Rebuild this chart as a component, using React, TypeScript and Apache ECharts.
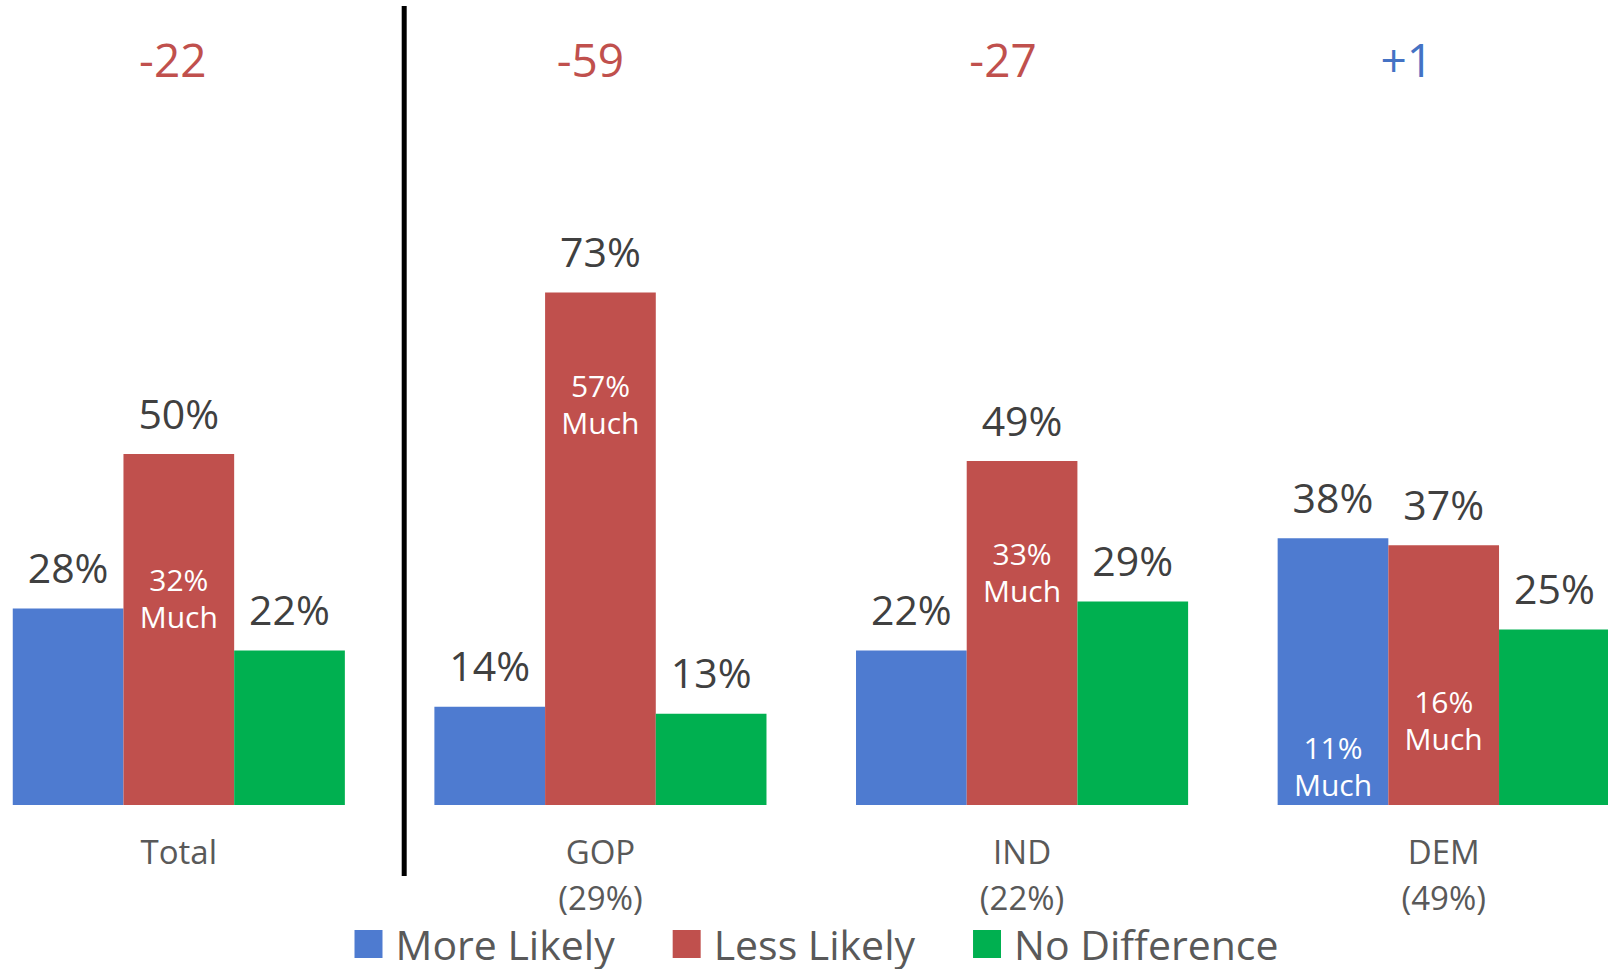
import React, { useEffect, useRef } from "react";
import * as echarts from "echarts";

const categories = ["Total", "GOP\n(29%)", "IND\n(22%)", "DEM\n(49%)"];
const moreLikely = [28, 14, 22, 38];
const lessLikely = [50, 73, 49, 37];
const noDifference = [22, 13, 29, 25];
const netLabels = ["-22", "-59", "-27", "+1"];
const muchLess = [32, 57, 33, 16];
const muchMore: (number | null)[] = [null, null, null, 11];

const FONT = "'Open Sans', 'Noto Sans', sans-serif";
const BLUE = "#4E7BD0";
const RED = "#C0504D";
const GREEN = "#00B050";
const BAR_W = 110.7;
const SHIFT = 32.5; // chart canvas starts left of the page so the first/last groups are cropped like the reference
const NET_LEVEL = 106.2;
const netDx = [-6, -10, -19, -37];
const muchLessDy = [18, -1, -1, 27];
const muchMoreDy = [0, 0, 0, 38];

export default function App() {
  const ref = useRef<HTMLDivElement>(null);
  useEffect(() => {
    if (!ref.current) return;
    document.body.style.overflow = "hidden";
    const chart = echarts.init(ref.current, undefined, { renderer: "svg" });
    const valueLabel = {
      show: true,
      position: "top",
      distance: 21,
      formatter: "{c}%",
      fontSize: 41,
      color: "#404040",
      fontFamily: FONT,
    };
    const muchLabelStyle = {
      show: true,
      position: "inside",
      color: "#ffffff",
      opacity: 1,
      fontSize: 30,
      lineHeight: 37,
      fontFamily: FONT,
      align: "center",
    };
    const hiddenItem = { color: "rgba(0,0,0,0)", opacity: 1 };
    chart.setOption({
      animation: false,
      backgroundColor: "#ffffff",
      grid: { left: 0, width: 1686.5, top: 32.8, height: 772.2 },
      xAxis: {
        type: "category",
        data: categories,
        axisLine: { show: false },
        axisTick: { show: false },
        axisLabel: {
          fontSize: 33,
          color: "#595959",
          lineHeight: 46,
          margin: 23,
          fontFamily: FONT,
        },
      },
      yAxis: { type: "value", min: 0, max: 110, show: false, splitLine: { show: false } },
      legend: {
        data: ["More Likely", "Less Likely", "No Difference"],
        icon: "rect",
        itemWidth: 28,
        itemHeight: 28,
        itemGap: 58,
        left: 349 + SHIFT,
        top: 918,
        textStyle: {
          fontSize: 41,
          lineHeight: 42,
          color: "#595959",
          fontFamily: FONT,
          padding: [0, 0, 0, 8],
        },
      },
      graphic: [
        {
          type: "line",
          shape: { x1: 403.7 + SHIFT, y1: 6, x2: 403.7 + SHIFT, y2: 876 },
          style: { stroke: "#000000", lineWidth: 5 },
        },
      ],
      series: [
        {
          name: "More Likely",
          type: "bar",
          data: moreLikely,
          barWidth: BAR_W,
          barGap: "0%",
          itemStyle: { color: BLUE },
          label: valueLabel,
        },
        {
          name: "Less Likely",
          type: "bar",
          data: lessLikely,
          barWidth: BAR_W,
          barGap: "0%",
          itemStyle: { color: RED },
          label: valueLabel,
        },
        {
          name: "No Difference",
          type: "bar",
          data: noDifference,
          barWidth: BAR_W,
          barGap: "0%",
          itemStyle: { color: GREEN },
          label: valueLabel,
        },
        {
          name: "net",
          type: "scatter",
          symbolSize: 1,
          itemStyle: hiddenItem,
          silent: true,
          data: netLabels.map((t, i) => ({
            value: [i, NET_LEVEL],
            label: {
              show: true,
              position: "inside",
              formatter: t,
              fontSize: 46,
              opacity: 1,
              fontFamily: FONT,
              color: t.startsWith("-") ? RED : "#4472C4",
              offset: [netDx[i], 0],
            },
          })),
        },
        {
          name: "muchLess",
          type: "scatter",
          symbolSize: 1,
          itemStyle: hiddenItem,
          silent: true,
          data: muchLess.map((v, i) => ({
            value: [i, v],
            label: { ...muchLabelStyle, formatter: `${v}%\nMuch`, offset: [0, muchLessDy[i]] },
          })),
        },
        {
          name: "muchMore",
          type: "scatter",
          symbolSize: 1,
          itemStyle: hiddenItem,
          silent: true,
          data: muchMore
            .map((v, i) => (v == null ? null : { v, i }))
            .filter((d): d is { v: number; i: number } => d !== null)
            .map(({ v, i }) => ({
              value: [i, v],
              label: { ...muchLabelStyle, formatter: `${v}%\nMuch`, offset: [-BAR_W, muchMoreDy[i]] },
            })),
        },
      ],
    });
    return () => chart.dispose();
  }, []);
  return (
    <div
      ref={ref}
      style={{
        position: "fixed",
        left: -SHIFT,
        top: 0,
        width: 1686.5,
        height: 969,
        background: "#fff",
      }}
    />
  );
}
